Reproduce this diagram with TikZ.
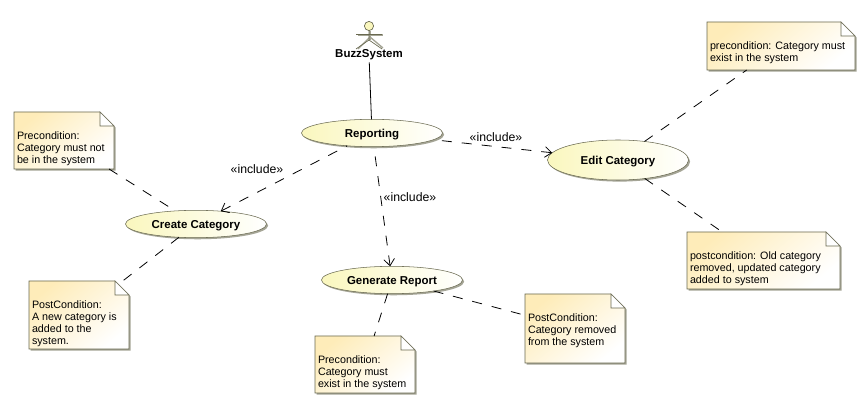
\documentclass[tikz,border=0pt]{standalone}
\usepackage{fontspec}
\setmainfont{Liberation Sans}
\usetikzlibrary{arrows.meta,shadows,shapes.geometric}
\definecolor{umlline}{RGB}{105, 105, 80}
\definecolor{umlshadow}{RGB}{165, 165, 150}
\definecolor{noteyellow}{RGB}{254, 236, 185}
\definecolor{caseyellow}{RGB}{250, 247, 190}
\tikzset{
  usecase/.style={ellipse,draw=umlline,inner sep=0pt,outer sep=0pt,minimum width=105.75pt,minimum height=20.5pt,
    left color=caseyellow,right color=white,general shadow={fill=umlshadow,shadow xshift=1.2pt,shadow yshift=-1.2pt},
    text height=6.2pt,text depth=0pt,font=\fontsize{8.6}{10}\selectfont\bfseries},
  notebody/.style={draw=umlline,top color=noteyellow,bottom color=white,shading angle=40,
    general shadow={fill=umlshadow,shadow xshift=1.2pt,shadow yshift=-1.2pt}},
  notearea/.style={rectangle,inner sep=0pt,outer sep=0pt},
  notetext/.style={inner sep=0pt,outer sep=0pt,align=left,font=\fontsize{8.05}{9}\selectfont},
  includeline/.style={line width=0.6pt,dash pattern=on 7.5pt off 7.5pt,{Straight Barb[length=5pt,width=8pt]}-},
  noteline/.style={line width=0.6pt,dash pattern=on 7.5pt off 7.5pt},
  includetext/.style={inner sep=0pt,font=\fontsize{9.2}{11}\selectfont},
  actorline/.style={draw=umlline,line width=0.5pt}
}
% name, x, y, width, height, text offset, text
\newcommand{\notebox}[7]{
  \node[notearea,anchor=north west,minimum width=#4*0.75pt,minimum height=#5*0.75pt] (#1) at (#2,#3) {};
  \path[notebody] (#2,#3) -- ++(#4-14,0) -- ++(14,14) -- ++(0,#5-14) -- ++(-#4,0) -- cycle;
  \draw[umlline,fill=white] (#2+#4-14,#3) -- ++(0,14) -- ++(14,0) -- cycle;
  \node[notetext,anchor=north west] (#1text) at (#2+3,#3+#6) {#7};
}

\begin{document}
\begin{tikzpicture}[x=0.75pt,y=-0.75pt]
  \useasboundingbox[fill=white] (0,0) rectangle (858,417);

  % actor
  \draw[umlshadow,line width=1pt] (370,37) -- (358,49);
  \draw[umlshadow,line width=1pt] (370,37) -- (383,48);
  \draw[umlshadow,line width=1pt] (358,35) -- (383,35);
  \draw[umlshadow,line width=1pt] (370,31) -- (370,40);
  \draw[actorline,fill=caseyellow] (369,26) circle (4.6);
  \draw[actorline] (369,31) -- (369,40) -- (356,49);
  \draw[actorline] (369,40) -- (382,49);
  \draw[actorline] (356,34) -- (382,34);
  \node[font=\fontsize{8.6}{10}\selectfont\bfseries,inner sep=1.5pt] (buzz) at (369,55) {BuzzSystem};

  % use cases
  \node[usecase] (reporting) at (372,133) {Reporting};
  \node[usecase] (create) at (196,224) {Create Category};
  \node[usecase] (generate) at (392,280) {Generate Report};
  \node[usecase,minimum height=30pt] (edit) at (618,160) {Edit Category};

  % notes
  \notebox{notecreatepre}{14}{112}{100}{57}{20}{Precondition:\\Category must not\\be in the system}
  \notebox{notecreatepost}{29}{281}{100}{68}{20}{PostCondition:\\A new category is\\added to the\\system.}
  \notebox{notegenpre}{315}{336}{100}{57}{20}{Precondition:\\Category must\\exist in the system}
  \notebox{notegenpost}{525}{294}{100}{69}{20}{PostCondition:\\Category removed\\from the system}
  \notebox{noteeditpre}{707}{22}{148}{48}{20}{precondition: Category must\\exist in the system}
  \notebox{noteeditpost}{687}{232}{153}{57}{20}{postcondition: Old category\\removed, updated category\\added to system}

  % connectors
  \draw[line width=0.6pt] (buzz) -- (reporting);
  \draw[includeline] (create) -- (reporting);
  \draw[includeline] (generate) -- (reporting);
  \draw[includeline] (edit) -- (reporting);
  \draw[noteline] (notecreatepre) -- (create);
  \draw[noteline] (create) -- (notecreatepost);
  \draw[noteline] (generate) -- (notegenpre);
  \draw[noteline] (generate) -- (notegenpost);
  \draw[noteline] (edit) -- (noteeditpre);
  \draw[noteline] (edit) -- (noteeditpost);

  \node[includetext] (inclcreate) at (257,169) {«include»};
  \node[includetext] (inclgen) at (410,197) {«include»};
  \node[includetext] (incledit) at (496,137) {«include»};
\end{tikzpicture}
\end{document}
